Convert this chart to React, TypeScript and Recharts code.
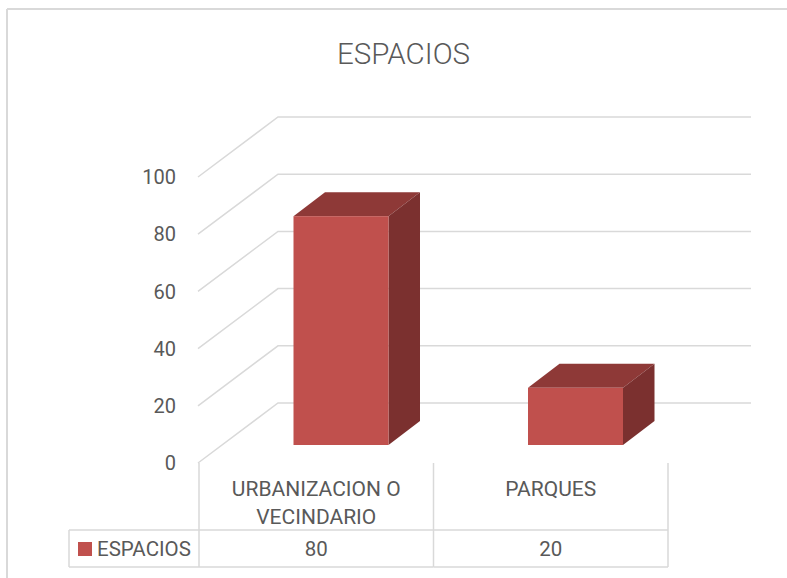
import React from 'react';
import { BarChart, Bar, XAxis, YAxis, CartesianGrid } from 'recharts';

// chart values
const categories = ['URBANIZACION O VECINDARIO', 'PARQUES'];
const categoryLines = [['URBANIZACION O', 'VECINDARIO'], ['PARQUES']];
const espacios = [80, 20];
const yTicks = [0, 20, 40, 60, 80, 100];
const seriesName = 'ESPACIOS';
const title = 'ESPACIOS';

const data = categories.map((name, i) => ({ name, value: espacios[i] }));

// layout
const W = 787;
const H = 578;
const PLOT_LEFT = 199;
const PLOT_RIGHT = 668;
const PLOT_TOP = 177;
const PLOT_BOTTOM = 463;
const WALL_DX = 80;
const WALL_DY = -60;
const WALL_RIGHT = 751;
const BAR_DX = 24.5; // bars stand a little behind the front edge
const BAR_DY = -18;
const DEPTH_DX = 31.5;
const DEPTH_DY = -24;
const TABLE_MID = 530;
const TABLE_BOTTOM = 567;
const LEGEND_LEFT = 69;

const GRID = '#D9D9D9';
const TEXT = '#595959';
const FONT = 'Roboto, "Noto Sans", sans-serif';
const FRONT = '#C0504D';
const TOP = '#8E3937';
const SIDE = '#7B302F';

const wallLine = (p: any) => {
  const y = p.y1;
  const x0 = PLOT_LEFT - 1;
  return (
    <polyline
      key={p.key}
      points={`${x0},${y} ${x0 + WALL_DX},${y + WALL_DY} ${WALL_RIGHT},${y + WALL_DY}`}
      fill="none"
      stroke={GRID}
      strokeWidth={1.5}
    />
  );
};

const YTick = ({ y, payload }: any) => (
  <text x={176} y={y} dy="0.36em" textAnchor="end" fontFamily={FONT} fontSize={20} fill={TEXT}>
    {payload.value}
  </text>
);

const TableTick = ({ x, index }: any) => {
  const half = (PLOT_RIGHT - PLOT_LEFT) / categories.length / 2;
  const left = x - half;
  const right = x + half;
  const last = index === categories.length - 1;
  return (
    <g>
      <line x1={left} y1={PLOT_BOTTOM} x2={left} y2={TABLE_BOTTOM} stroke={GRID} strokeWidth={1.5} />
      {last && <line x1={right} y1={PLOT_BOTTOM} x2={right} y2={TABLE_BOTTOM} stroke={GRID} strokeWidth={1.5} />}
      <line x1={left} y1={TABLE_MID} x2={right} y2={TABLE_MID} stroke={GRID} strokeWidth={1.5} />
      <line x1={left} y1={TABLE_BOTTOM} x2={right} y2={TABLE_BOTTOM} stroke={GRID} strokeWidth={1.5} />
      {categoryLines[index].map((t, k) => (
        <text key={k} x={x} y={488 + k * 28} dy="0.36em" textAnchor="middle" fontFamily={FONT} fontSize={21} fill={TEXT}>
          {t}
        </text>
      ))}
      <text x={x} y={549} dy="0.36em" textAnchor="middle" fontFamily={FONT} fontSize={20.5} fill={TEXT}>
        {espacios[index]}
      </text>
      {index === 0 && (
        <g>
          <line x1={LEGEND_LEFT} y1={TABLE_MID} x2={left} y2={TABLE_MID} stroke={GRID} strokeWidth={1.5} />
          <line x1={LEGEND_LEFT} y1={TABLE_BOTTOM} x2={left} y2={TABLE_BOTTOM} stroke={GRID} strokeWidth={1.5} />
          <line x1={LEGEND_LEFT} y1={TABLE_MID} x2={LEGEND_LEFT} y2={TABLE_BOTTOM} stroke={GRID} strokeWidth={1.5} />
          <rect x={78} y={542} width={14} height={14} fill={FRONT} />
          <text x={97} y={549} dy="0.36em" fontFamily={FONT} fontSize={20.5} fill={TEXT}>
            {seriesName}
          </text>
        </g>
      )}
    </g>
  );
};

const Bar3D = (props: any) => {
  const { x, y, width, height } = props;
  const fx = x + BAR_DX;
  const fy = y + BAR_DY;
  const r = fx + width;
  const b = fy + height;
  return (
    <g>
      <polygon
        points={`${fx},${fy} ${fx + DEPTH_DX},${fy + DEPTH_DY} ${r + DEPTH_DX},${fy + DEPTH_DY} ${r},${fy}`}
        fill={TOP}
      />
      <polygon
        points={`${r},${fy} ${r + DEPTH_DX},${fy + DEPTH_DY} ${r + DEPTH_DX},${b + DEPTH_DY} ${r},${b}`}
        fill={SIDE}
      />
      <rect x={fx} y={fy} width={width} height={height} fill={FRONT} />
    </g>
  );
};

export default function App() {
  return (
    <div style={{ position: 'absolute', left: 0, top: 0, width: W, height: H, background: '#fff' }}>
      <BarChart
        width={W}
        height={H}
        data={data}
        margin={{ top: PLOT_TOP, right: W - PLOT_RIGHT, bottom: 0, left: PLOT_LEFT - 60 }}
      >
        <CartesianGrid vertical={false} horizontal={wallLine} />
        <XAxis
          dataKey="name"
          axisLine={false}
          tickLine={false}
          height={H - PLOT_BOTTOM}
          tick={<TableTick />}
          interval={0}
        />
        <YAxis
          type="number"
          domain={[0, 100]}
          ticks={yTicks}
          width={60}
          axisLine={false}
          tickLine={false}
          tick={<YTick />}
        />
        <Bar dataKey="value" barSize={95} shape={<Bar3D />} isAnimationActive={false} />
      </BarChart>
      <svg width={W} height={H} style={{ position: 'absolute', left: 0, top: 0, pointerEvents: 'none' }}>
        <line x1={7} y1={9} x2={W} y2={9} stroke={GRID} strokeWidth={2} />
        <line x1={7} y1={9} x2={7} y2={H} stroke={GRID} strokeWidth={2} />
        <text x={403.5} y={64} textAnchor="middle" fontFamily={FONT} fontSize={29.5} fontWeight={300} fill={TEXT}>
          {title}
        </text>
      </svg>
    </div>
  );
}
